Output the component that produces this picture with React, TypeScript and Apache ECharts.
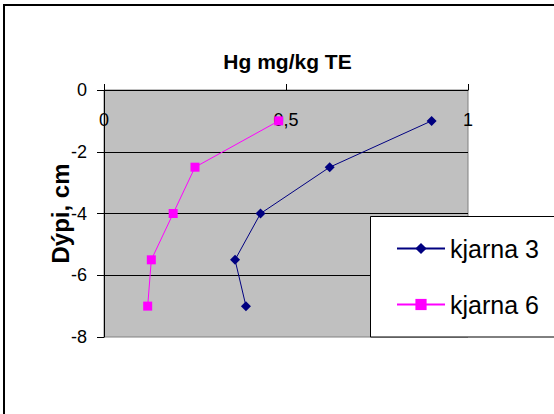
import React, { useEffect, useRef } from "react";
import * as echarts from "echarts";

// Depth of each core slice (cm, negative downward)
const depths: number[] = [-1, -2.5, -4, -5.5, -7];
// Hg concentration, mg/kg dry matter
const kjarna3: number[] = [0.9, 0.62, 0.43, 0.36, 0.39];
const kjarna6: number[] = [0.48, 0.25, 0.19, 0.13, 0.12];

const seriesNames: string[] = ["kjarna 3", "kjarna 6"];
const titleText = "Hg mg/kg TE";
const yAxisTitle = "Dýpi, cm";

const FONT = "'Liberation Sans', Arial, sans-serif";

export default function App() {
  const ref = useRef<HTMLDivElement>(null);

  useEffect(() => {
    if (!ref.current) return;
    const chart = echarts.init(ref.current, undefined, { renderer: "svg" });

    const toPairs = (xs: number[]) => depths.map((d, i) => [xs[i], d]);

    chart.setOption({
      animation: false,
      backgroundColor: "#ffffff",
      textStyle: { fontFamily: FONT, color: "#000" },
      title: {
        text: titleText,
        left: 287.5,
        top: 51,
        textAlign: "center",
        padding: 0,
        textStyle: { fontFamily: FONT, fontSize: 21, fontWeight: "bold", color: "#000" },
      },
      grid: {
        left: 104,
        top: 90,
        right: 86,
        bottom: 77,
        show: true,
        backgroundColor: "#c0c0c0",
        borderColor: "#808080",
        borderWidth: 1,
      },
      xAxis: {
        type: "value",
        position: "top",
        min: 0,
        max: 1,
        interval: 0.5,
        axisLine: { show: true, lineStyle: { color: "#000", width: 1 } },
        axisTick: { show: true, inside: false, length: 6, lineStyle: { color: "#000" } },
        axisLabel: {
          inside: true,
          margin: 21,
          fontSize: 18,
          fontFamily: FONT,
          color: "#000",
          formatter: (v: number) => String(v).replace(".", ","),
        },
        splitLine: { show: false },
      },
      yAxis: {
        type: "value",
        min: -8,
        max: 0,
        interval: 2,
        name: yAxisTitle,
        nameLocation: "middle",
        nameRotate: 90,
        nameGap: 32,
        nameMoveOverlap: false,
        nameTextStyle: { fontFamily: FONT, fontSize: 24, fontWeight: "bold", color: "#000" },
        axisLine: { show: true, onZero: false, lineStyle: { color: "#000", width: 1 } },
        axisTick: { show: true, inside: false, length: 7, lineStyle: { color: "#000" } },
        axisLabel: { margin: 17, fontSize: 18, fontFamily: FONT, color: "#000" },
        splitLine: {
          show: true,
          showMinLine: false,
          showMaxLine: false,
          lineStyle: { color: "#000", width: 1 },
        },
      },
      legend: {
        orient: "vertical",
        left: 396,
        top: 236,
        padding: 0,
        itemGap: 31,
        itemWidth: 48,
        itemHeight: 14,
        textStyle: { fontFamily: FONT, fontSize: 25, color: "#000" },
        data: seriesNames,
        z: 5,
      },
      graphic: [
        {
          type: "rect",
          z: 3,
          shape: { x: 370.5, y: 216.5, width: 200, height: 120.5 },
          style: { fill: "#ffffff", stroke: "#000", lineWidth: 1 },
        },
        {
          type: "rect",
          z: 1,
          silent: true,
          shape: { x: 4, y: 5, width: 620, height: 500 },
          style: { fill: "none", stroke: "#000", lineWidth: 2 },
        },
      ],
      series: [
        {
          name: seriesNames[0],
          type: "line",
          data: toPairs(kjarna3),
          symbol: "diamond",
          symbolSize: 10,
          color: "#000080",
          lineStyle: { color: "#000080", width: 1 },
          itemStyle: { color: "#000080" },
          z: 2,
        },
        {
          name: seriesNames[1],
          type: "line",
          data: toPairs(kjarna6),
          symbol: "rect",
          symbolSize: 9,
          color: "#ff00ff",
          lineStyle: { color: "#ff00ff", width: 1 },
          itemStyle: { color: "#ff00ff" },
          z: 2,
        },
      ],
    });

    return () => chart.dispose();
  }, []);

  return (
    <div
      ref={ref}
      style={{ position: "fixed", left: 0, top: 0, width: 554, height: 414 }}
    />
  );
}
